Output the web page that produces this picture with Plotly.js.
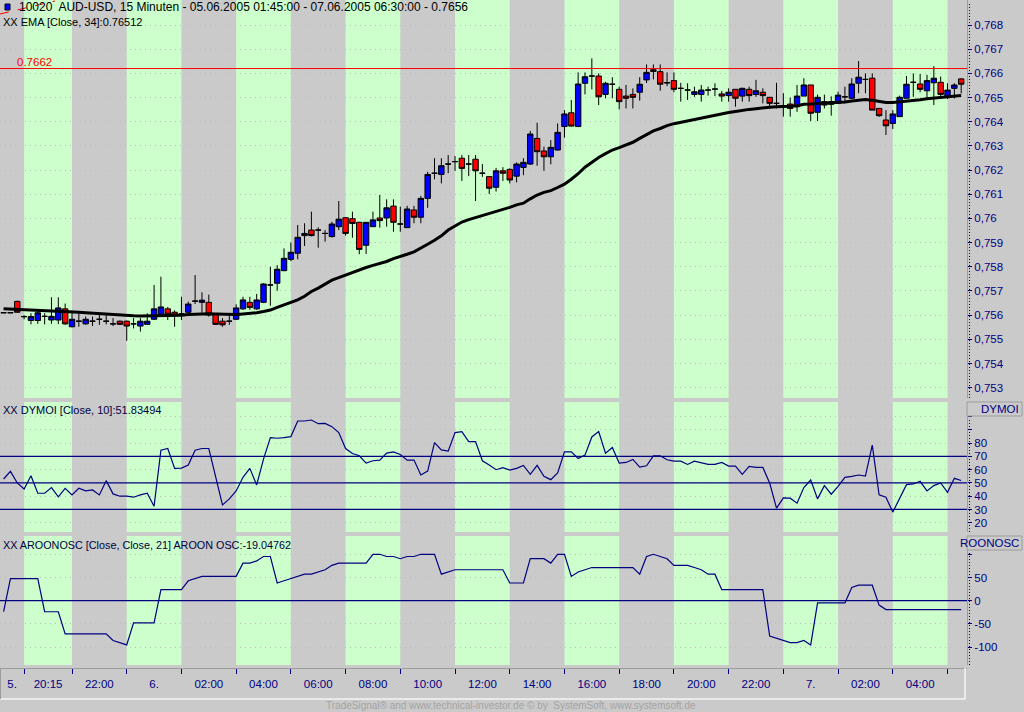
<!DOCTYPE html>
<html><head><meta charset="utf-8">
<script src="https://cdn.plot.ly/plotly-3.0.1.min.js"></script>
<style>html,body{margin:0;padding:0;background:#cacaca;overflow:hidden}#chart{width:1024px;height:712px}</style>
</head><body><div id="chart"></div>
<script>
// ---------- DATA ----------
const openP = [
0.7561,0.7561,0.75657,0.75594,0.75578,0.75578,0.75595,0.7558,0.7558,0.75626,
0.75552,0.75575,0.75564,0.75575,0.75583,0.75575,0.75564,0.75575,0.75575,0.75564,
0.75555,0.75562,0.75583,0.75604,0.75626,0.75612,0.75605,0.75612,0.75658,0.75653,
0.75653,0.75604,0.75575,0.75575,0.75583,0.75626,0.75653,0.75626,0.75653,0.75725,
0.75732,0.75784,0.75831,0.75856,0.75929,0.75952,0.75952,0.75938,0.75925,0.75966,
0.76003,0.75999,0.75984,0.75889,0.75966,0.76002,0.76002,0.76051,0.75977,0.75962,
0.76035,0.76005,0.76083,0.76187,0.76182,0.76225,0.76235,0.76249,0.76225,0.76245,
0.76187,0.76173,0.76129,0.76197,0.76203,0.76175,0.76211,0.76225,0.76331,0.76279,
0.76255,0.76283,0.7638,0.76437,0.7638,0.76559,0.76589,0.76589,0.76513,0.76555,
0.76534,0.76506,0.76513,0.76522,0.76573,0.76615,0.76607,0.76561,0.7657,0.76538,
0.76531,0.76513,0.76513,0.76531,0.76535,0.76515,0.76508,0.76534,0.76506,0.76534,
0.76513,0.76522,0.76501,0.76476,0.76465,0.76473,0.76462,0.76506,0.76552,0.76439,
0.76483,0.76472,0.76476,0.76503,0.76497,0.76559,0.76575,0.7658,0.76455,0.76407,
0.76393,0.76421,0.76497,0.76563,0.76556,0.76528,0.76561,0.76563,0.76506,0.76538,0.76577];
const highP = [
0.7561,0.7561,0.7566,0.756,0.75608,0.75619,0.75608,0.75674,0.75674,0.75648,
0.75619,0.75615,0.75594,0.75594,0.75605,0.75605,0.75588,0.75578,0.75578,0.75588,
0.75588,0.75608,0.75725,0.75759,0.75634,0.7562,0.75676,0.75656,0.75766,0.75695,
0.75685,0.75608,0.75588,0.75605,0.75645,0.75676,0.75676,0.75688,0.75732,0.758,
0.75807,0.75876,0.759,0.75973,0.7598,0.76028,0.75963,0.75952,0.75986,0.76072,
0.76006,0.76028,0.75986,0.75984,0.76028,0.76097,0.76079,0.76079,0.76049,0.76052,
0.76052,0.76093,0.76193,0.76249,0.76249,0.76262,0.76258,0.76262,0.76262,0.76262,
0.76225,0.76173,0.76209,0.76212,0.76207,0.76232,0.76249,0.76362,0.76396,0.76297,
0.76324,0.76393,0.76448,0.7649,0.76604,0.76604,0.76662,0.766,0.76565,0.76584,
0.76545,0.76552,0.76538,0.76584,0.76637,0.76637,0.76637,0.76604,0.76604,0.76561,
0.76559,0.76545,0.76552,0.76545,0.76559,0.76527,0.76538,0.76534,0.76541,0.76545,
0.76573,0.76538,0.76501,0.76561,0.76518,0.765,0.76552,0.7658,0.76552,0.76512,
0.76512,0.76505,0.76524,0.76545,0.7658,0.76651,0.766,0.766,0.76455,0.76448,
0.76448,0.76508,0.76589,0.766,0.76597,0.76594,0.7663,0.76587,0.76559,0.76559,0.7658];
const lowP = [
0.7561,0.7561,0.7561,0.75583,0.75562,0.75564,0.75562,0.75564,0.75563,0.7556,
0.7555,0.75552,0.7556,0.75555,0.7556,0.75562,0.75555,0.7556,0.75494,0.75545,
0.75532,0.7556,0.7558,0.756,0.7558,0.75552,0.7558,0.75606,0.75646,0.7561,
0.75594,0.7556,0.75552,0.7556,0.7558,0.75622,0.75622,0.75622,0.7565,0.75639,
0.75701,0.75782,0.75823,0.75831,0.75886,0.75926,0.75879,0.75904,0.75921,0.75952,
0.75929,0.7592,0.75852,0.75853,0.75966,0.75962,0.75966,0.75945,0.75945,0.75962,
0.7598,0.7598,0.76044,0.76162,0.76145,0.76187,0.76197,0.76155,0.76175,0.76072,
0.76172,0.76101,0.76111,0.76155,0.76145,0.76149,0.76179,0.76221,0.76218,0.76197,
0.76224,0.76281,0.76334,0.7638,0.76378,0.76513,0.76534,0.76469,0.76497,0.76497,
0.76451,0.76455,0.76455,0.76487,0.7656,0.76575,0.76528,0.76547,0.76522,0.76483,
0.7649,0.76503,0.76483,0.76508,0.76506,0.76483,0.76483,0.76462,0.76483,0.76483,
0.76503,0.76476,0.76455,0.76455,0.76421,0.76421,0.76441,0.76506,0.76403,0.76403,
0.76455,0.76425,0.76476,0.76476,0.76494,0.76518,0.76518,0.76448,0.7642,0.76345,
0.7637,0.76421,0.76497,0.76503,0.76522,0.7649,0.76469,0.76503,0.76494,0.76496,0.76517];
const closeP = [
0.7561,0.7561,0.75612,0.75594,0.75594,0.7561,0.75595,0.75595,0.7563,0.75564,
0.75583,0.75575,0.75583,0.75575,0.75583,0.75575,0.75564,0.75562,0.75555,0.75564,
0.75575,0.75575,0.75626,0.75634,0.75604,0.75601,0.75605,0.75646,0.75658,0.75662,
0.75601,0.75562,0.7556,0.75575,0.7563,0.75663,0.75632,0.75663,0.75729,0.75725,
0.7579,0.75835,0.7586,0.75922,0.75938,0.75929,0.75952,0.75938,0.75977,0.75997,
0.75938,0.75979,0.75872,0.75984,0.75994,0.75991,0.76044,0.75984,0.75977,0.76039,
0.76005,0.76083,0.76182,0.76187,0.76218,0.76225,0.76235,0.76207,0.76225,0.76197,
0.76187,0.76125,0.76197,0.76187,0.76159,0.76225,0.76232,0.76349,0.76276,0.76255,
0.76294,0.76356,0.76432,0.76382,0.76556,0.76586,0.76589,0.76503,0.76559,0.76555,
0.76483,0.76497,0.76501,0.76555,0.76604,0.76608,0.76555,0.76561,0.76534,0.76538,
0.76531,0.76524,0.76531,0.76531,0.76535,0.76506,0.76522,0.76497,0.76538,0.76508,
0.76528,0.76508,0.76476,0.76476,0.76465,0.76455,0.76506,0.76552,0.76435,0.76501,
0.76469,0.76483,0.7651,0.76503,0.76556,0.76584,0.76575,0.76448,0.76425,0.76383,
0.76432,0.76501,0.76555,0.76563,0.76534,0.7657,0.7658,0.76513,0.76531,0.76552,0.76555];
const ema34 = [
0.75626,0.75625,0.75624,0.75622,0.7562, 0.75619,0.75618,0.75617,0.75616,0.75615,
0.75614,0.75612,0.7561,0.75608,0.75607, 0.75606,0.75603,0.756,0.75598,0.75598,
0.75597,0.75597,0.75598,0.75599,0.756, 0.756,0.756,0.75603,0.75605,0.75606,
0.75606,0.75605,0.75604,0.75603,0.75603, 0.75605,0.75606,0.7561,0.75615,0.75621,
0.75632,0.75642,0.75652,0.75663,0.75678, 0.75698,0.75712,0.75728,0.75745,0.75755,
0.75766,0.75776,0.75787,0.75797,0.75806, 0.75814,0.75822,0.75834,0.75842,0.75852,
0.75862,0.75876,0.75893,0.7591,0.75928, 0.75952,0.75968,0.75985,0.75995,0.76003,
0.76012,0.7602,0.76028,0.76038,0.76046, 0.76056,0.76063,0.76081,0.76097,0.76108,
0.76115,0.76128,0.76142,0.76162,0.76185, 0.76212,0.76232,0.76252,0.76268,0.76283,
0.76293,0.76303,0.76315,0.76331,0.76345, 0.76362,0.76372,0.76384,0.76392,0.76398,
0.76404,0.7641,0.76416,0.76422,0.76428, 0.76433,0.76438,0.76442,0.76448,0.76451,
0.76454,0.76458,0.7646,0.76462,0.76462, 0.76464,0.76466,0.76472,0.76473,0.76476,
0.76477,0.76478,0.76479,0.76482,0.76486, 0.7649,0.76492,0.76489,0.76485,0.7648,
0.7648,0.76482,0.76484,0.76487,0.76491, 0.76495,0.76497,0.765,0.76503,0.76506,0.76508];
const dymoi = [
53,58.75,50,45.5,55.5,42.25,42.25,46.5,39.5,46,
41,46,44,44.75,41,51.75,41.75,40,40,39.25,
41,42.25,32.5,74.75,76,61,61.25,63.5,74.75,76,
76,54.75,33.5,38,44,54.25,61,48.5,68,84.25,
83.75,84.25,85,96.75,96.75,97.5,94.75,95,92.5,88,
76,72.25,70.5,65,66.75,67.25,72.5,73.5,71.5,67.25,
67.25,56,59,80.5,75,74,88,88.75,81.25,81.25,
66.75,63.5,60,61.5,59.75,61,63.25,56.5,63.25,55,
52.5,57.5,73.5,73.5,68.5,71,84.75,88.75,72.5,76.75,
65,65.5,67.75,62,63,70.5,70.5,67.5,66.5,66.5,
64,66.5,65.5,64,64,65.5,62.75,62.75,56.5,62.5,
61.75,61.75,50,31,38.75,38.5,34.75,46.5,52.25,38,
48,41.5,47.5,54.25,55,56,55.25,78.5,41,39.25,
28,38.5,48.75,49.25,51.25,44,48,50,43,53.5,51.83];
const aroonOsc = [
-23.81,47.62,47.62,47.62,47.62,47.62,-23.81,-23.81,-23.81,-71.43,
-71.43,-71.43,-71.43,-71.43,-71.43,-71.43,-85.71,-90.48,-95.24,-47.62,
-47.62,-47.62,-47.62,23.81,23.81,23.81,23.81,42.86,47.62,52.38,
52.38,52.38,52.38,52.38,52.38,80.95,80.95,85.71,95.24,95.24,
38.1,42.86,47.62,52.38,57.14,57.14,61.9,66.67,76.19,80.95,
80.95,80.95,80.95,80.95,100,100,95.24,95.24,90.48,95.24,
95.24,100,100,100,57.14,61.9,66.67,66.67,66.67,66.67,
66.67,66.67,66.67,66.67,38.1,38.1,38.1,90.48,90.48,90.48,
80.95,100,100,52.38,61.9,66.67,71.43,71.43,71.43,71.43,
71.43,71.43,71.43,57.14,95.24,100,95.24,90.48,76.19,76.19,
76.19,71.43,66.67,57.14,57.14,23.81,23.81,23.81,23.81,23.81,
23.81,23.81,-76.19,-80.95,-85.71,-90.48,-90.48,-85.71,-95.24,-4.76,
-4.76,-4.76,-4.76,-4.76,28.57,33.33,33.33,33.33,-9.52,-19.05,
-19.05,-19.05,-19.05,-19.05,-19.05,-19.05,-19.05,-19.05,-19.05,-19.05,-19.05];

const sessionBounds = [3,10,18,26,34,42,50,58,66,74,82,90,98,106,114,122,130,138];
const greenSessions = [[3,10],[18,26],[34,42],[50,58],[66,74],[82,90],[98,106],[114,122],[130,138]];
const timeLabels = ["5.","20:15","22:00","6.","02:00","04:00","06:00","08:00","10:00","12:00","14:00","16:00","18:00","20:00","22:00","7.","02:00","04:00"];
const timeLabelPos = [1.25,6.5,14,22,30,38,46,54,62,70,78,86,94,102,110,118,126,134];
const priceTicks = [0.753,0.754,0.755,0.756,0.757,0.758,0.759,0.76,0.761,0.762,0.763,0.764,0.765,0.766,0.767,0.768];
const priceTickText = ["0,753","0,754","0,755","0,756","0,757","0,758","0,759","0,76","0,761","0,762","0,763","0,764","0,765","0,766","0,767","0,768"];
const dymoiTicks = [20,30,40,50,60,70,80,90,100];
const dymoiTickText = ["20","30","40","50","60","70","80","",""];
const dymoiLevels = [30,50,70];
const aroonTicks = [-100,-50,0,50,100];
const aroonTickText = ["-100","-50","0","50",""];
const aroonLevels = [0];
const resistanceLevel = 0.7662;

// ---------- LAYOUT ----------
const H = 712, PW = 967;
const py = y => (H - y) / H;
const px = x => x / PW;
const xi = openP.map((_, i) => i);
const NAVY = '#000080';
const FONT = 'Liberation Sans, Arial, sans-serif';

const panels = [
  {ax:'y',  top:0,   bot:398, dotTop:2},
  {ax:'y2', top:402, bot:532, dotTop:418},
  {ax:'y3', top:536, bot:665, dotTop:552}
];

const shapes = [];
panels.forEach(p => {
  greenSessions.forEach(s => shapes.push({type:'rect', xref:'x', yref:'paper', x0:s[0], x1:s[1],
    y0:py(p.bot), y1:py(p.top), fillcolor:'#ccffcc', line:{width:0}, layer:'below'}));
  shapes.push({type:'line', xref:'paper', yref:'paper', x0:px(969.5), x1:px(969.5), y0:py(p.bot), y1:py(p.dotTop),
    line:{color:'#000040', width:1, dash:'1px,2px'}});
});
shapes.push({type:'line', xref:'paper', yref:'y', x0:0, x1:1, y0:resistanceLevel, y1:resistanceLevel, line:{color:'#ff0000', width:1}});
dymoiLevels.forEach(v => shapes.push({type:'line', xref:'paper', yref:'y2', x0:0, x1:1, y0:v, y1:v, line:{color:NAVY, width:1.3}}));
aroonLevels.forEach(v => shapes.push({type:'line', xref:'paper', yref:'y3', x0:0, x1:1, y0:v, y1:v, line:{color:NAVY, width:1.3}}));
// right-hand header boxes
[[402,416],[536,550]].forEach(b => shapes.push({type:'rect', xref:'paper', yref:'paper', x0:px(967), x1:px(1022),
  y0:py(b[1]), y1:py(b[0]), fillcolor:'#cacaca', line:{color:'#9c9c9c', width:1}}));
// frame of the time-axis strip
shapes.push({type:'line', xref:'paper', yref:'paper', x0:0, x1:px(965), y0:py(699), y1:py(699), line:{color:'#f4f4f4', width:1.5}});
shapes.push({type:'line', xref:'paper', yref:'paper', x0:px(965), x1:px(965), y0:py(699), y1:py(668), line:{color:'#f4f4f4', width:1.5}});
shapes.push({type:'line', xref:'paper', yref:'paper', x0:px(0.5), x1:px(0.5), y0:py(699), y1:py(668), line:{color:'#9c9c9c', width:1}});
// small symbol in the title
shapes.push({type:'line', xref:'paper', yref:'paper', x0:px(0), x1:px(55), y0:py(14), y1:py(1), line:{color:'#ff0000', width:1, dash:'dash'}});
shapes.push({type:'rect', xref:'paper', yref:'paper', x0:px(5), x1:px(10), y0:py(10), y1:py(4), fillcolor:'#0000ff', line:{color:'#000', width:1}});

const ann = (x, y, text, color, anchor, size) => ({xref:'paper', yref:'paper', x:px(x), y:py(y), text, showarrow:false,
  xanchor:anchor||'left', yanchor:'middle', font:{family:FONT, size:size||11.5, color}});
const annotations = [
  ann(17, 7, '10020  AUD-USD, 15 Minuten - 05.06.2005 01:45:00 - 07.06.2005 06:30:00 - 0.7656', '#000000', 'left', 12),
  ann(1, 22, 'XX EMA [Close, 34]:0.76512', '#000000', 'left', 11),
  ann(15, 62, '0.7662', '#ff0000', 'left', 11.5),
  ann(1, 410, 'XX DYMOI [Close, 10]:51.83494', '#000040', 'left', 11),
  ann(1, 545, 'XX AROONOSC [Close, Close, 21] AROON OSC:-19.04762', '#000040', 'left', 10.8),
  ann(1021, 409, 'DYMOI', NAVY, 'right'),
  ann(1021, 543, 'ROONOSC', NAVY, 'right'),
  ann(511, 705, 'TradeSignal® and www.technical-investor.de © by  SystemSoft, www.systemsoft.de', '#a4a4a4', 'center', 10)
];

const yBase = {side:'right', anchor:'x', showline:true, linecolor:'#9c9c9c', linewidth:1, ticks:'outside', ticklen:4,
  tickcolor:NAVY, tickfont:{family:FONT, size:11.5, color:NAVY}, tickmode:'array', showgrid:true,
  gridcolor:'#bcbcbc', griddash:'1px,4px', gridwidth:1, zeroline:false, fixedrange:true};

const layout = {
  width:1024, height:712, margin:{l:0, r:57, t:0, b:0, pad:0},
  paper_bgcolor:'#cacaca', plot_bgcolor:'#cacaca', showlegend:false,
  boxgap:0.12, boxgroupgap:0.1,
  font:{family:FONT, size:11.5, color:NAVY},
  xaxis:{range:[-0.526, 140.85], domain:[0,1], anchor:'free', position:py(668), showgrid:false, zeroline:false,
    showline:true, linecolor:'#9c9c9c', linewidth:1, tickmode:'array', tickvals:timeLabelPos, ticktext:timeLabels,
    ticks:'outside', ticklen:5, tickcolor:'rgba(0,0,0,0)', tickfont:{family:FONT, size:11.5, color:NAVY},
    minor:{tickmode:'array', tickvals:sessionBounds, ticks:'outside', ticklen:5, tickcolor:NAVY, tickwidth:1, showgrid:false},
    rangeslider:{visible:false}, fixedrange:true},
  yaxis:Object.assign({}, yBase, {domain:[py(398), 1], range:[0.752574, 0.769034], tickvals:priceTicks, ticktext:priceTickText}),
  yaxis2:Object.assign({}, yBase, {domain:[py(532), py(402)], range:[13.0, 111.1], tickvals:dymoiTicks, ticktext:dymoiTickText}),
  yaxis3:Object.assign({}, yBase, {domain:[py(665), py(536)], range:[-138.6, 139.4], tickvals:aroonTicks, ticktext:aroonTickText}),
  shapes, annotations
};

const traces = [
  {type:'candlestick', x:xi, open:openP, high:highP, low:lowP, close:closeP, xaxis:'x', yaxis:'y',
   increasing:{fillcolor:'#0000ff', line:{color:'#000000', width:1}},
   decreasing:{fillcolor:'#ff0000', line:{color:'#000000', width:1}},
   whiskerwidth:0, hoverinfo:'skip'},
  {type:'scatter', mode:'lines', x:xi, y:ema34, xaxis:'x', yaxis:'y', line:{color:'#000000', width:3}, hoverinfo:'skip'},
  {type:'scatter', mode:'lines', x:xi, y:dymoi, xaxis:'x', yaxis:'y2', line:{color:NAVY, width:1.2}, hoverinfo:'skip'},
  {type:'scatter', mode:'lines', x:xi, y:aroonOsc, xaxis:'x', yaxis:'y3', line:{color:NAVY, width:1.2}, hoverinfo:'skip'}
];

Plotly.newPlot('chart', traces, layout, {displayModeBar:false, staticPlot:true});
</script></body></html>
